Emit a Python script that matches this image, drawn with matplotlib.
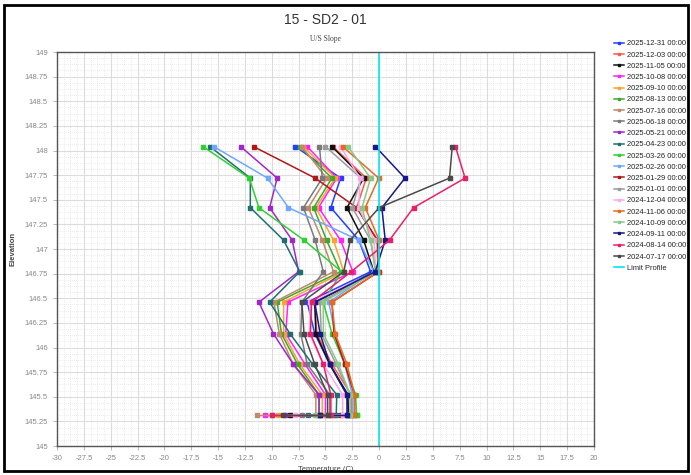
import matplotlib
matplotlib.use("Agg")
import matplotlib.pyplot as plt
from matplotlib.ticker import MultipleLocator, AutoMinorLocator
from matplotlib.patches import Rectangle

plt.rcParams['font.family'] = ['Liberation Sans', 'DejaVu Sans']

# sensor elevations (m), top to bottom; the last reading sits at the bottom level too
elevation = [148.04, 147.72, 147.42, 147.09, 146.77, 146.46, 146.14, 145.83, 145.52, 145.31, 145.31]

dates = ["2025-12-31 00:00", "2025-12-03 00:00", "2025-11-05 00:00", "2025-10-08 00:00",
         "2025-09-10 00:00", "2025-08-13 00:00", "2025-07-16 00:00", "2025-06-18 00:00",
         "2025-05-21 00:00", "2025-04-23 00:00", "2025-03-26 00:00", "2025-02-26 00:00",
         "2025-01-29 00:00", "2025-01-01 00:00", "2024-12-04 00:00", "2024-11-06 00:00",
         "2024-10-09 00:00", "2024-09-11 00:00", "2024-08-14 00:00", "2024-07-17 00:00"]

colors = ["#2040ff", "#ff5a4a", "#111111", "#ff20ff", "#ffa030", "#40a828", "#c08a6a", "#7a7a7a",
          "#a028c8", "#1f6f70", "#30d030", "#70a8ff", "#b01818", "#9a9a9a", "#ffa8e8", "#e86a20",
          "#88c888", "#181888", "#e8206a", "#4a4a4a"]

# temperatures (C) per reading date, same order as elevation
t_20251231 = [-7.8, -3.6, -4.5, -1.9, -0.8, -6.7, -6.0, -4.6, -3.0, -2.8, -5.5]
t_20251203 = [-4.3, -1.2, -2.1, -0.2, -0.1, -6.0, -5.8, -4.4, -2.6, -2.6, -4.3]
t_20251105 = [-4.4, -1.45, -3.0, -1.45, -0.5, -6.0, -5.9, -4.6, -2.9, -2.9, -8.3]
t_20251008 = [-6.7, -3.95, -5.65, -3.6, -2.45, -8.5, -8.7, -6.9, -5.0, -5.0, -10.6]
t_20250910 = [-7.05, -4.1, -5.9, -4.25, -3.3, -8.9, -8.9, -7.4, -5.3, -5.3, -9.4]
t_20250813 = [-7.4, -4.4, -6.1, -4.9, -3.6, -9.5, -9.1, -7.6, -5.6, -5.6, -10.0]
t_20250716 = [-7.2, -4.9, -6.6, -5.3, -4.25, -9.8, -9.3, -8.0, -5.9, -5.9, -11.4]
t_20250618 = [-5.56, -5.3, -7.05, -5.96, -5.2, -7.2, -7.3, -6.7, -4.6, -4.6, -7.2]
t_20250521 = [-12.9, -9.5, -10.2, -8.1, -7.5, -11.2, -9.85, -8.0, -5.6, -5.6, -8.8]
t_20250423 = [-15.75, -12.0, -12.0, -8.9, -7.4, -10.2, -8.3, -6.2, -3.95, -4.0, -6.6]
t_20250326 = [-16.4, -12.1, -11.2, -7.0, -3.5, -5.2, -4.4, -3.2, -2.2, -2.1, -2.1]
t_20250226 = [-15.4, -10.4, -8.45, -1.9, -0.5, -4.7, -4.1, -3.2, -2.5, -2.5, -3.0]
t_20250129 = [-11.7, -5.96, -2.1, -0.15, -0.05, -4.4, -4.2, -3.2, -2.3, -2.3, -3.6]
t_20250101 = [-5.0, -1.7, -2.5, -0.8, -0.3, -5.5, -5.4, -4.0, -2.7, -2.7, -4.9]
t_20241204 = [-3.6, -1.8, -1.9, -0.5, -0.3, -6.4, -6.5, -5.2, -3.4, -3.4, -7.8]
t_20241106 = [-3.4, -0.05, -1.3, 0.0, -0.1, -4.4, -4.1, -3.0, -2.3, -2.3, -3.0]
t_20241009 = [-2.9, -0.8, -1.6, -0.8, -0.35, -5.2, -5.2, -3.8, -2.7, -2.7, -6.0]
t_20240911 = [-0.35, 2.4, 0.25, 0.56, -0.37, -6.0, -5.5, -4.6, -3.0, -3.0, -5.5]
t_20240814 = [7.1, 8.0, 3.2, 0.96, -2.6, -6.3, -6.4, -5.2, -4.5, -4.5, -10.0]
t_20240717 = [6.8, 6.55, 0.0, -2.7, -3.3, -7.2, -7.0, -6.0, -4.8, -4.8, -9.0]

series = [t_20251231, t_20251203, t_20251105, t_20251008, t_20250910, t_20250813,
          t_20250716, t_20250618, t_20250521, t_20250423, t_20250326, t_20250226,
          t_20250129, t_20250101, t_20241204, t_20241106, t_20241009, t_20240911,
          t_20240814, t_20240717]

limit_temp = [0, 0]
limit_elev = [145, 149]

fig = plt.figure(figsize=(6.91, 4.75), dpi=100)
ax = fig.add_axes([0.0825, 0.061, 0.7771, 0.8295])

for temps, c, lab in zip(series, colors, dates):
    ax.plot(temps, elevation, color=c, lw=1.1, marker='s', ms=2.6, label=lab)
ax.plot(limit_temp, limit_elev, color='#00e8f0', lw=1.2, label='Limit Profile')

ax.set_xlim(-30, 20)
ax.set_ylim(145, 149)
ax.xaxis.set_major_locator(MultipleLocator(2.5))
ax.yaxis.set_major_locator(MultipleLocator(0.25))
ax.xaxis.set_minor_locator(AutoMinorLocator(4))
ax.yaxis.set_minor_locator(AutoMinorLocator(4))
ax.grid(which='major', color='#dcdcdc', lw=0.8)
ax.grid(which='minor', color='#d8d8d8', lw=0.5, ls=(0, (1, 2)))
ax.set_axisbelow(True)
ax.tick_params(which='major', labelsize=5.5, labelcolor='#888888', color='#aaaaaa', length=3, width=0.6)
ax.tick_params(which='minor', length=0)
ax.xaxis.set_major_formatter(plt.FuncFormatter(lambda v, p: ('%g' % v)))
ax.yaxis.set_major_formatter(plt.FuncFormatter(lambda v, p: ('%g' % v)))
for s in ax.spines.values():
    s.set_color('#555555')
    s.set_linewidth(1.0)

ax.set_xlabel('Temperature (C)', fontsize=5.5, color='#444444', labelpad=3)
ax.set_ylabel('Elevation', fontsize=5.5, color='#444444', labelpad=6, fontweight='bold')

fig.text(0.4711, 0.958, '15 - SD2 - 01', ha='center', va='center', fontsize=10, color='#333333')
fig.text(0.4711, 0.917, 'U/S Slope', ha='center', va='center', fontsize=5.5,
         color='#444444', family='Liberation Serif')

fig.legend(loc='upper left', bbox_to_anchor=(0.884, 0.922), frameon=False,
           fontsize=5.4, handlelength=1.3, handletextpad=0.45, labelspacing=0.53,
           borderaxespad=0, markerscale=0.8, labelcolor='#222222')

fig.patches.append(Rectangle((0.006, 0.008), 0.99, 0.982, transform=fig.transFigure,
                             fill=False, edgecolor='black', lw=2.0))

fig.savefig('out.png', dpi=100)
